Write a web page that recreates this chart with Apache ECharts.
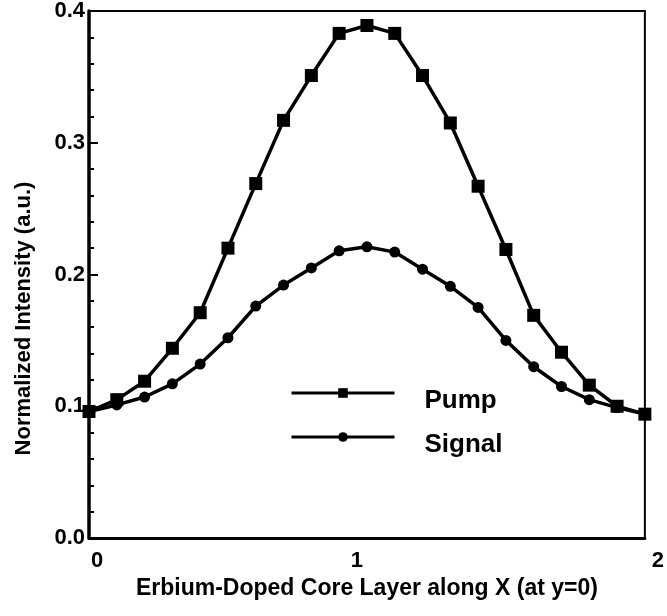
<!DOCTYPE html>
<html>
<head>
<meta charset="utf-8">
<script src="https://cdn.jsdelivr.net/npm/echarts@6/dist/echarts.min.js"></script>
<style>
html,body{margin:0;padding:0;background:#fff;}
#chart{width:667px;height:616px;}
</style>
</head>
<body>
<div id="chart"></div>
<script>
// x positions along the core layer
var xValues = [0, 0.1, 0.2, 0.3, 0.4, 0.5, 0.6, 0.7, 0.8, 0.9, 1.0, 1.1, 1.2, 1.3, 1.4, 1.5, 1.6, 1.7, 1.8, 1.9, 2.0];
// normalized intensities
var pumpValues = [0.096, 0.105, 0.119, 0.144, 0.171, 0.220, 0.269, 0.317, 0.351, 0.383, 0.389, 0.383, 0.351, 0.315, 0.267, 0.219, 0.169, 0.141, 0.116, 0.100, 0.094];
var signalValues = [0.096, 0.101, 0.107, 0.117, 0.132, 0.152, 0.176, 0.192, 0.205, 0.218, 0.221, 0.217, 0.204, 0.191, 0.175, 0.150, 0.130, 0.115, 0.105, 0.099, 0.094];
var xTicks = [0, 1, 2];
var yTicks = [0.0, 0.1, 0.2, 0.3, 0.4];
var seriesNames = ['Pump', 'Signal'];
var xTitle = 'Erbium-Doped Core Layer along X (at y=0)';
var yTitle = 'Normalized Intensity (a.u.)';

function zip(xs, ys) { return xs.map(function (x, i) { return [x, ys[i]]; }); }

var FONT = "'Liberation Sans', Arial, Helvetica, sans-serif";
var INK = '#000';

var chart = echarts.init(document.getElementById('chart'), null, { renderer: 'canvas' });
chart.setOption({
  animation: false,
  backgroundColor: '#fff',
  textStyle: { fontFamily: FONT },
  grid: { left: 89, right: 7, top: 11, bottom: 78, show: true, borderColor: INK, borderWidth: 2, backgroundColor: 'transparent' },
  legend: {
    orient: 'vertical',
    left: 290,
    top: 372,
    padding: 0,
    itemWidth: 103,
    itemHeight: 12,
    itemGap: 2,
    data: seriesNames,
    formatter: function (name) { return '{s| }\n{t|' + name + '}'; },
    textStyle: {
      fontSize: 26, fontWeight: 'bold', color: INK, fontFamily: FONT,
      rich: {
        s: { height: 16, fontSize: 4, lineHeight: 16 },
        t: { fontSize: 26, fontWeight: 'bold', color: INK, fontFamily: FONT, lineHeight: 26, padding: [0, 0, 0, 25] }
      }
    },
    lineStyle: { width: 3 }
  },
  xAxis: {
    type: 'value',
    min: xTicks[0],
    max: xTicks[xTicks.length - 1],
    interval: 1,
    name: xTitle,
    nameLocation: 'middle',
    nameGap: 39,
    nameTextStyle: { fontSize: 23, fontWeight: 'bold', color: INK, fontFamily: FONT },
    axisLine: { show: true, lineStyle: { color: INK, width: 3 } },
    axisTick: { show: false },
    splitLine: { show: false },
    axisLabel: {
      margin: 12,
      fontSize: 22,
      fontWeight: 'bold',
      color: INK,
      fontFamily: FONT,
      formatter: function (v) { return '{l' + v + '|' + v + '}'; },
      rich: {
        l0: { padding: [0, 0, 0, 16] },
        l1: { padding: [0, 20, 0, 0] },
        l2: { padding: [0, 0, 0, 26] }
      }
    }
  },
  yAxis: {
    type: 'value',
    min: yTicks[0],
    max: yTicks[yTicks.length - 1],
    interval: 0.1,
    name: yTitle,
    nameLocation: 'middle',
    nameGap: 54,
    nameTextStyle: { fontSize: 22, fontWeight: 'bold', color: INK, fontFamily: FONT, padding: [0, 88, 0, 0] },
    axisLine: { show: true, lineStyle: { color: INK, width: 3.5 } },
    axisTick: { show: true, inside: true, length: 9, lineStyle: { color: INK, width: 2 } },
    minorTick: { show: true, splitNumber: 5, length: 5, lineStyle: { color: INK, width: 2 } },
    splitLine: { show: false },
    axisLabel: {
      margin: 4,
      fontSize: 22,
      fontWeight: 'bold',
      color: INK,
      fontFamily: FONT,
      formatter: function (v) { return v.toFixed(1); }
    }
  },
  series: [
    {
      name: seriesNames[0],
      type: 'line',
      data: zip(xValues, pumpValues),
      symbol: 'rect',
      symbolSize: 13,
      showAllSymbol: true,
      clip: false,
      lineStyle: { color: INK, width: 3.5 },
      itemStyle: { color: INK },
      z: 3
    },
    {
      name: seriesNames[1],
      type: 'line',
      data: zip(xValues, signalValues),
      symbol: 'circle',
      symbolSize: 11,
      showAllSymbol: true,
      clip: false,
      lineStyle: { color: INK, width: 3.5 },
      itemStyle: { color: INK },
      z: 2
    }
  ]
});
</script>
</body>
</html>
